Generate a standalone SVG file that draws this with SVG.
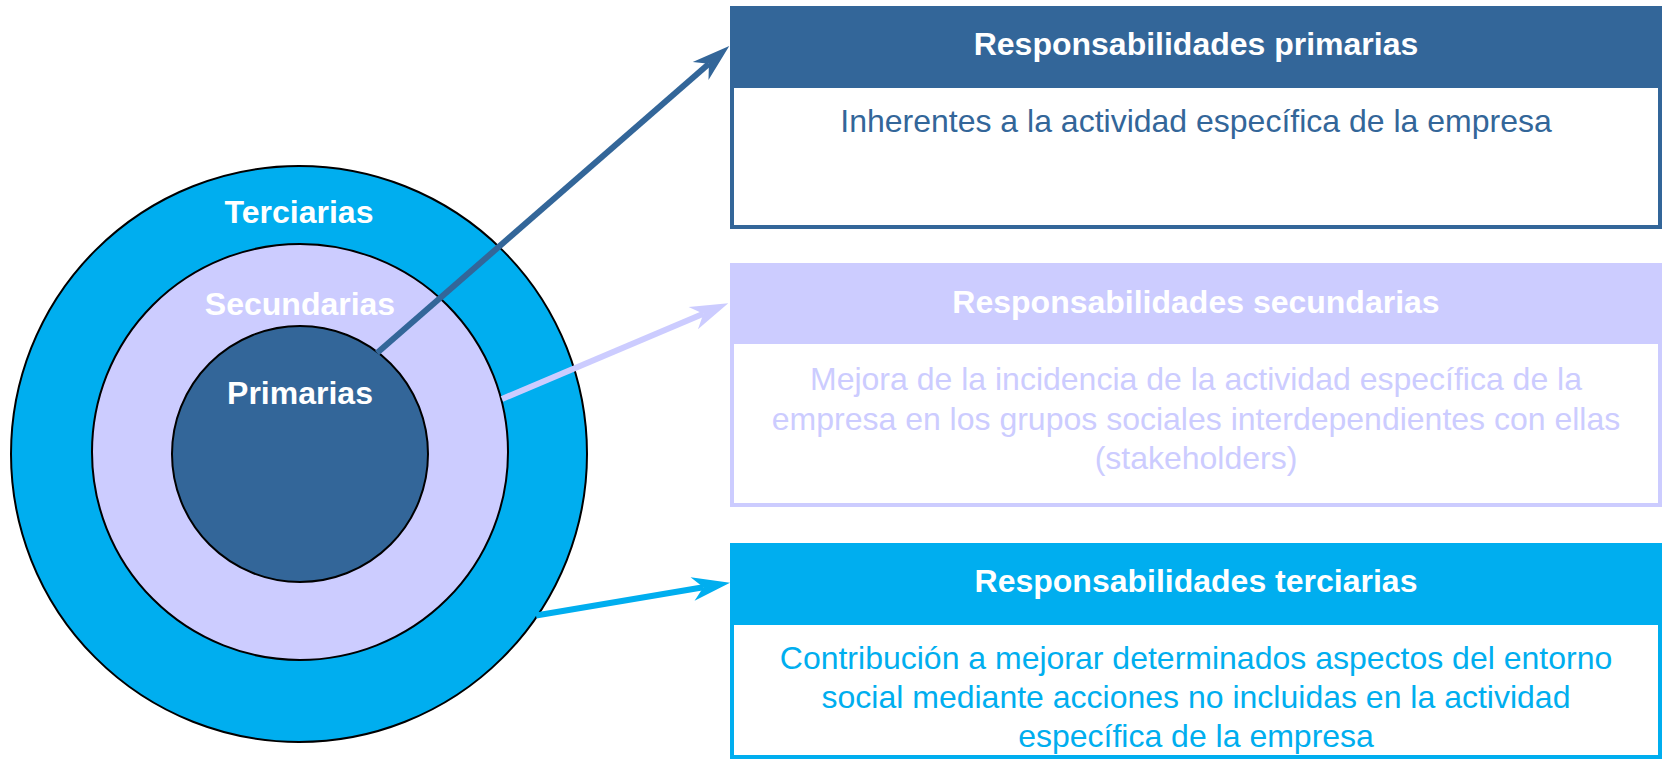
<svg xmlns="http://www.w3.org/2000/svg" width="1665" height="759" viewBox="0 0 1665 759">
<style>
.ring{stroke:#000;stroke-width:2}
.lbl{font-family:"Liberation Sans",Arial,sans-serif;font-weight:bold;font-size:32px;fill:#fff;text-anchor:middle}
.hdr{font-family:"Liberation Sans",Arial,sans-serif;font-weight:bold;font-size:32px;fill:#fff;text-anchor:middle}
.body{font-family:"Liberation Sans",Arial,sans-serif;font-size:32px;text-anchor:middle}
.conn{fill:none;stroke-width:6}
</style>
<defs>
<marker id="ah1" markerUnits="userSpaceOnUse" viewBox="-40 -14 42 28" markerWidth="42" markerHeight="28" refX="-27" refY="0" orient="auto"><path d="M0,0 L-38,-12 L-27,0 L-38,12 Z" fill="#336699"/></marker>
<marker id="ah2" markerUnits="userSpaceOnUse" viewBox="-40 -14 42 28" markerWidth="42" markerHeight="28" refX="-27" refY="0" orient="auto"><path d="M0,0 L-38,-12 L-27,0 L-38,12 Z" fill="#CCCCFF"/></marker>
<marker id="ah3" markerUnits="userSpaceOnUse" viewBox="-40 -14 42 28" markerWidth="42" markerHeight="28" refX="-27" refY="0" orient="auto"><path d="M0,0 L-38,-12 L-27,0 L-38,12 Z" fill="#00AEEF"/></marker>
</defs>
<rect width="1665" height="759" fill="#fff"/>
<g id="terciarias">
<circle class="ring" cx="299" cy="454" r="288" fill="#00AEEF"/>
<text class="lbl" x="299" y="223">Terciarias</text>
</g>
<g id="secundarias">
<circle class="ring" cx="300" cy="452" r="208" fill="#CCCCFF"/>
<text class="lbl" x="300" y="315">Secundarias</text>
</g>
<g id="primarias">
<circle class="ring" cx="300" cy="454" r="128" fill="#336699"/>
<text class="lbl" x="300" y="404">Primarias</text>
</g>
<g id="connectors">
<path class="conn" d="M377,353 L708.9,63.7" stroke="#336699" marker-end="url(#ah1)"/>
<path class="conn" d="M502,399 L703.4,313.8" stroke="#CCCCFF" marker-end="url(#ah2)"/>
<path class="conn" d="M536,615.5 L703.4,587.2" stroke="#00AEEF" marker-end="url(#ah3)"/>
</g>
<g id="resp-primarias">
<rect x="732" y="8" width="928" height="219" fill="#fff" stroke="#336699" stroke-width="4"/>
<rect x="730" y="6" width="932" height="82" fill="#336699"/>
<text class="hdr" x="1196" y="55">Responsabilidades primarias</text>
<text class="body" x="1196" y="132" fill="#336699">Inherentes a la actividad específica de la empresa</text>
</g>
<g id="resp-secundarias">
<rect x="732" y="265" width="928" height="240" fill="#fff" stroke="#CCCCFF" stroke-width="4"/>
<rect x="730" y="263" width="932" height="81" fill="#CCCCFF"/>
<text class="hdr" x="1196" y="313">Responsabilidades secundarias</text>
<g class="body" fill="#CCCCFF">
<text x="1196" y="390">Mejora de la incidencia de la actividad específica de la</text>
<text x="1196" y="430">empresa en los grupos sociales interdependientes con ellas</text>
<text x="1196" y="469">(stakeholders)</text>
</g>
</g>
<g id="resp-terciarias">
<rect x="732" y="545" width="928" height="212" fill="#fff" stroke="#00AEEF" stroke-width="4"/>
<rect x="730" y="543" width="932" height="82" fill="#00AEEF"/>
<text class="hdr" x="1196" y="592">Responsabilidades terciarias</text>
<g class="body" fill="#00AEEF">
<text x="1196" y="669">Contribución a mejorar determinados aspectos del entorno</text>
<text x="1196" y="708">social mediante acciones no incluidas en la actividad</text>
<text x="1196" y="747">específica de la empresa</text>
</g>
</g>
</svg>
